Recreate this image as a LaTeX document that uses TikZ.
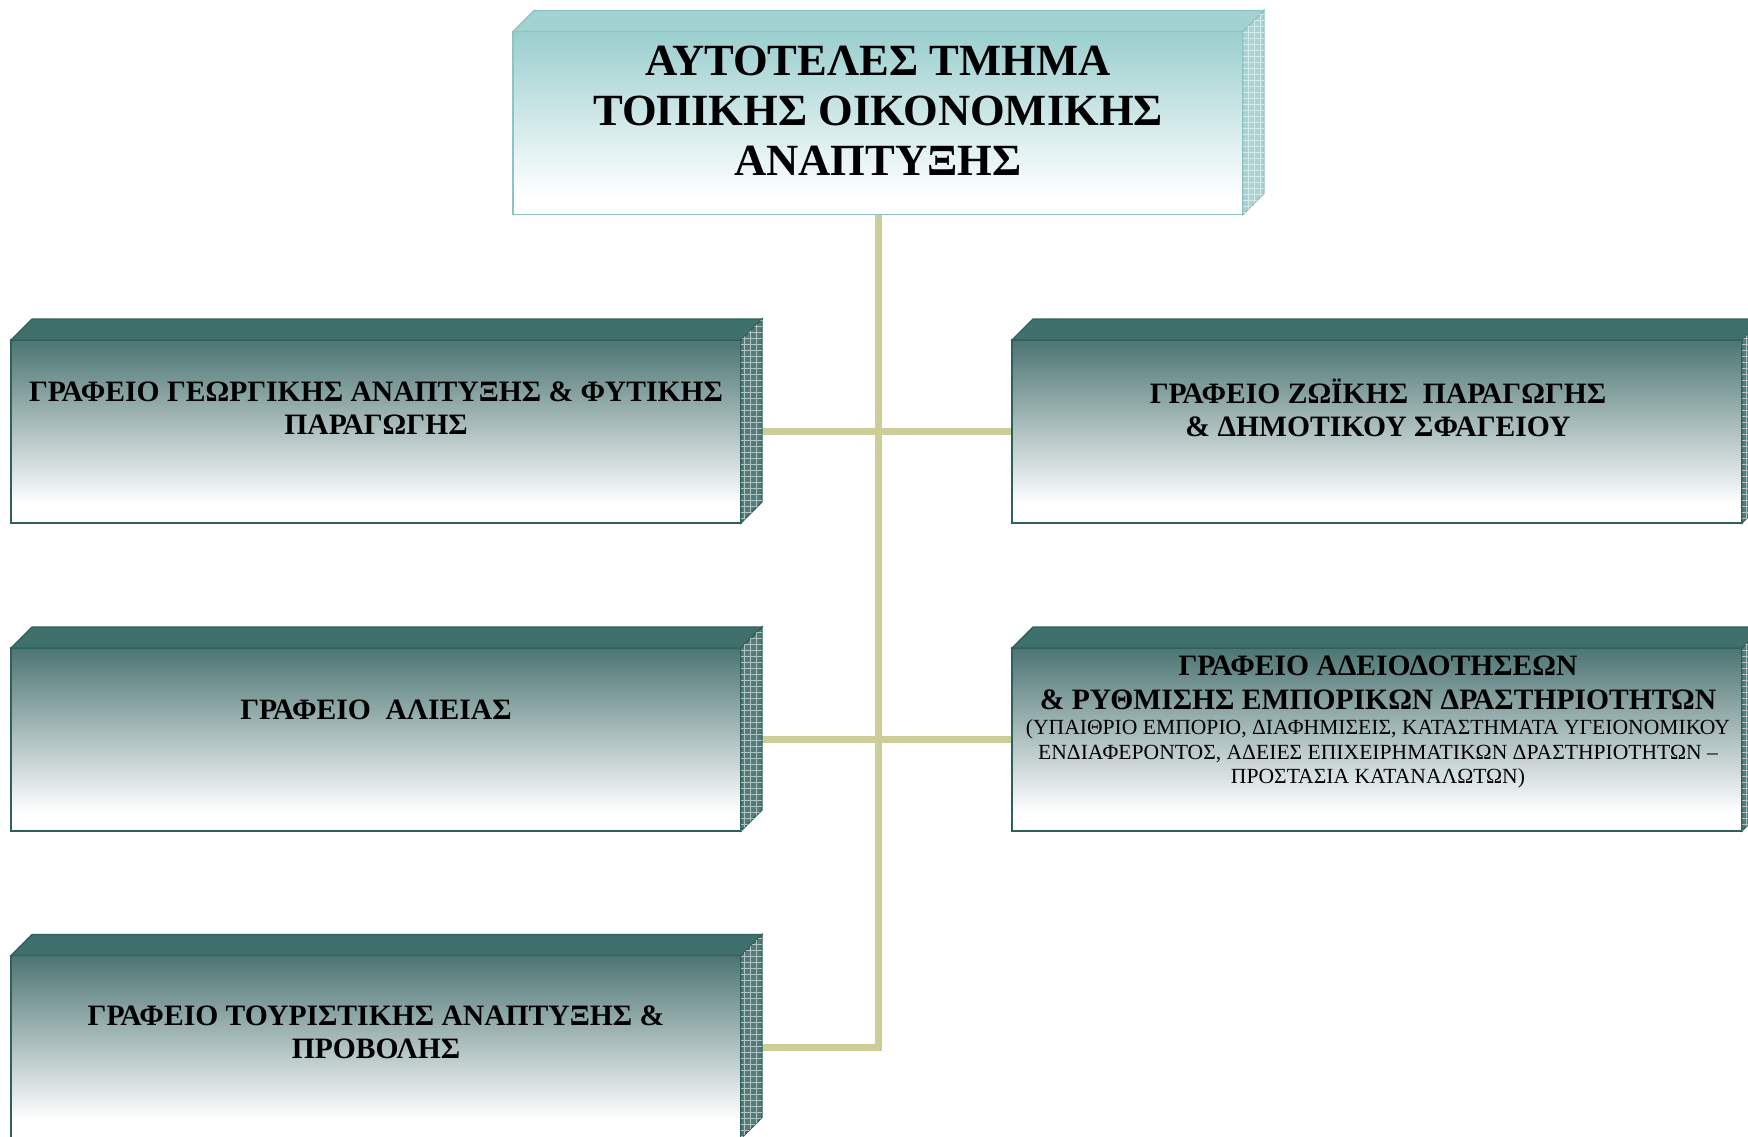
\documentclass[tikz,border=0pt]{standalone}
\usepackage{fontspec}
\setmainfont{Liberation Serif}
\usetikzlibrary{calc,backgrounds,patterns}

\definecolor{darktop}{HTML}{4C7573}
\definecolor{darkroof}{HTML}{40706C}
\definecolor{darkside}{HTML}{527C79}
\definecolor{darkline}{HTML}{2F605C}
\definecolor{lighttop}{HTML}{9BCECE}
\definecolor{lightroof}{HTML}{A2D2D1}
\definecolor{lightside}{HTML}{A9D4D3}
\definecolor{lightline}{HTML}{8CC4C3}
\definecolor{linkcol}{HTML}{CDCD99}

\pgfdeclareverticalshading{darkbox}{100bp}{color(0bp)=(white); color(30bp)=(white); color(75bp)=(darktop); color(100bp)=(darktop)}
\pgfdeclareverticalshading{lightbox}{100bp}{color(0bp)=(white); color(30bp)=(white); color(75bp)=(lighttop); color(100bp)=(lighttop)}

\begin{document}
\begin{tikzpicture}[x=0.5pt,y=-0.5pt,
    face/.style={draw=darkline, line width=0.6pt, shading=darkbox, minimum width=365pt, minimum height=91.5pt, inner sep=0pt, outer sep=0pt},
    headface/.style={face, draw=lightline, shading=lightbox},
    roof/.style={fill=darkroof, draw=darkline, line width=0.6pt},
    side/.style={fill=darkside, draw=darkline, line width=0.6pt, postaction={pattern=grid, pattern color=white!55!darkside}},
    headroof/.style={fill=lightroof, draw=lightline, line width=0.6pt},
    headside/.style={fill=lightside, draw=lightline, line width=0.6pt, postaction={pattern=grid, pattern color=white!50!lightside}},
    titletext/.style={align=center, font=\bfseries\fontsize{22.3}{25}\selectfont},
    boxtext/.style={align=center, font=\bfseries\fontsize{14.8}{16.7}\selectfont},
    notetext/.style={align=center, font=\fontsize{10.8}{12.3}\selectfont},
    link/.style={draw=linkcol, line width=3.5pt}]
\useasboundingbox (0,0) rectangle (1748,1136);
\clip (0,0) rectangle (1748,1136);

% front faces
\node[headface] (head) at (878,123) {};
\node[face] (geo) at (376,431.5) {};
\node[face] (ali) at (376,739.5) {};
\node[face] (tour) at (376,1047) {};
\node[face] (zoo) at (1377,431.5) {};
\node[face] (lic) at (1377,739.5) {};

% tops and sides
\draw[headroof] (head.north west) -- ++(21,-21) -- ($(head.north east)+(21,-21)$) -- (head.north east) -- cycle;
\draw[headside] (head.north east) -- ++(21,-21) -- ($(head.south east)+(21,-21)$) -- (head.south east) -- cycle;
\foreach \b in {geo,ali,tour,zoo,lic}{
    \draw[roof] (\b.north west) -- ++(21,-21) -- ($(\b.north east)+(21,-21)$) -- (\b.north east) -- cycle;
    \draw[side] (\b.north east) -- ++(21,-21) -- ($(\b.south east)+(21,-21)$) -- (\b.south east) -- cycle;
}

% connectors
\begin{scope}[on background layer]
\draw[link] (head.south) |- (tour.east);
\draw[link] (geo.east) -- (zoo.west);
\draw[link] (ali.east) -- (lic.west);
\end{scope}

% texts
\node[titletext] (headt) at (878,111) {ΑΥΤΟΤΕΛΕΣ ΤΜΗΜΑ\\ΤΟΠΙΚΗΣ ΟΙΚΟΝΟΜΙΚΗΣ\\ΑΝΑΠΤΥΞΗΣ};
\node[boxtext] (geot) at (376,408) {ΓΡΑΦΕΙΟ ΓΕΩΡΓΙΚΗΣ ΑΝΑΠΤΥΞΗΣ \& ΦΥΤΙΚΗΣ\\ΠΑΡΑΓΩΓΗΣ};
\node[boxtext] (alit) at (376,710) {ΓΡΑΦΕΙΟ\ \ ΑΛΙΕΙΑΣ};
\node[boxtext] (tourt) at (376,1032) {ΓΡΑΦΕΙΟ ΤΟΥΡΙΣΤΙΚΗΣ ΑΝΑΠΤΥΞΗΣ \&\\ΠΡΟΒΟΛΗΣ};
\node[boxtext] (zoot) at (1378,408) {ΓΡΑΦΕΙΟ ΖΩΪΚΗΣ\ \ ΠΑΡΑΓΩΓΗΣ\\\& ΔΗΜΟΤΙΚΟΥ ΣΦΑΓΕΙΟΥ};
\node[boxtext] (lict) at (1378,683) {ΓΡΑΦΕΙΟ ΑΔΕΙΟΔΟΤΗΣΕΩΝ\\\& ΡΥΘΜΙΣΗΣ ΕΜΠΟΡΙΚΩΝ ΔΡΑΣΤΗΡΙΟΤΗΤΩΝ};
\node[notetext] (licn) at (1378,754) {(ΥΠΑΙΘΡΙΟ ΕΜΠΟΡΙΟ, ΔΙΑΦΗΜΙΣΕΙΣ, ΚΑΤΑΣΤΗΜΑΤΑ ΥΓΕΙΟΝΟΜΙΚΟΥ\\ΕΝΔΙΑΦΕΡΟΝΤΟΣ, ΑΔΕΙΕΣ ΕΠΙΧΕΙΡΗΜΑΤΙΚΩΝ ΔΡΑΣΤΗΡΙΟΤΗΤΩΝ –\\ΠΡΟΣΤΑΣΙΑ ΚΑΤΑΝΑΛΩΤΩΝ)};
\end{tikzpicture}
\end{document}
